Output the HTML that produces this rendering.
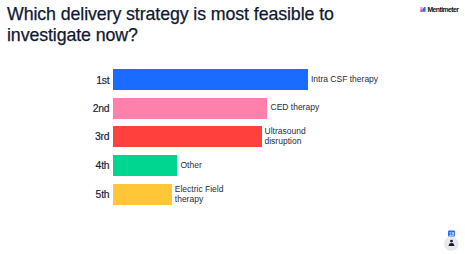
<!DOCTYPE html>
<html><head><meta charset="utf-8">
<style>
html,body{margin:0;padding:0;background:#fff;}
body{width:465px;height:254px;position:relative;overflow:hidden;font-family:"Liberation Sans",sans-serif;color:#101834;}
.title{position:absolute;left:7px;top:4.3px;font-size:17.8px;line-height:20.3px;letter-spacing:-0.1px;white-space:nowrap;-webkit-text-stroke:0.25px #101834;}
.rank{position:absolute;right:355.7px;font-size:10.4px;line-height:21px;height:21px;text-align:right;white-space:nowrap;letter-spacing:-0.25px;-webkit-text-stroke:0.15px #101834;}
.bar{position:absolute;left:113px;height:21px;}
.lbl{position:absolute;color:#272b3c;font-size:8.5px;line-height:9.6px;white-space:nowrap;display:flex;align-items:center;height:21px;}
.logo{position:absolute;left:420px;top:6px;height:8px;}
.brand{position:absolute;left:427.5px;top:6.4px;font-size:6.8px;font-weight:bold;letter-spacing:-0.55px;line-height:8px;color:#111;}
</style></head>
<body>
<div class="title">Which delivery strategy is most feasible to<br>investigate now?</div>

<svg style="position:absolute;left:420px;top:7px" width="6" height="5" viewBox="0 0 6 5">
  <rect x="0.4" y="0" width="2" height="4.8" fill="#ff80ab"/>
  <rect x="0.4" y="3" width="2" height="1.8" fill="#ff403d"/>
  <polygon points="2.5,4.8 2.5,2.2 4.1,0 5.5,0 5.5,4.8" fill="#196cff"/>
</svg>
<div class="brand">Mentimeter</div>

<div class="rank" style="top:69.5px">1st</div>
<div class="rank" style="top:97.75px">2nd</div>
<div class="rank" style="top:126px">3rd</div>
<div class="rank" style="top:155.25px">4th</div>
<div class="rank" style="top:184px">5th</div>

<div class="bar" style="top:69px;width:194.7px;background:#196cff"></div>
<div class="bar" style="top:97.75px;width:154px;background:#ff80ab"></div>
<div class="bar" style="top:126px;width:148.5px;background:#ff403d"></div>
<div class="bar" style="top:155.25px;width:64.2px;background:#00d68f"></div>
<div class="bar" style="top:184px;width:58.6px;background:#ffc638"></div>

<div class="lbl" style="left:311px;top:69px"><span>Intra CSF therapy</span></div>
<div class="lbl" style="left:270.5px;top:97.75px"><span>CED therapy</span></div>
<div class="lbl" style="left:264.5px;top:126.5px"><span>Ultrasound<br>disruption</span></div>
<div class="lbl" style="left:180.5px;top:155.25px"><span>Other</span></div>
<div class="lbl" style="left:174.8px;top:184px"><span>Electric Field<br>therapy</span></div>

<svg style="position:absolute;left:440px;top:226px" width="25" height="28" viewBox="440 226 25 28">
  <circle cx="451.3" cy="243.8" r="7.3" fill="#e9e9ea"/>
  <circle cx="451.5" cy="241.1" r="1.45" fill="#101834"/>
  <path d="M448.7 246.1 L448.7 245.2 Q448.9 243.1 451.5 243.1 Q454.1 243.1 454.3 245.2 L454.3 246.1 Z" fill="#101834"/>
  <rect x="447.4" y="230.0" width="8.2" height="7.2" rx="1.6" fill="#fff"/>
  <rect x="448" y="230.6" width="7" height="6" rx="1.2" fill="#196cff"/>
  <text x="451.6" y="235.9" font-family="Liberation Sans" font-size="5" fill="#fff" text-anchor="middle" letter-spacing="0">18</text>
</svg>
</body></html>
